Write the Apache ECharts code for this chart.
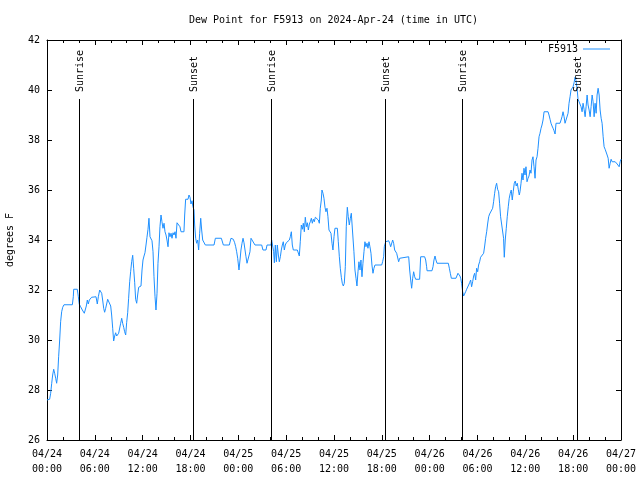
<!DOCTYPE html>
<html>
<head>
<meta charset="utf-8">
<script src="https://cdn.jsdelivr.net/npm/echarts@6/dist/echarts.min.js"></script>
<style>html,body{margin:0;padding:0;background:#fff}#c{width:640px;height:480px}</style>
</head>
<body>
<div id="c"></div>
<script>
// Hours after 2024-04-24 00:00 UTC and dew point (deg F)
const dewHours = [
0.0,0.33,0.46,0.59,0.71,0.84,0.96,1.09,1.21,1.34,1.46,1.59,1.71,1.84,1.97,2.13,3.18,3.30,3.35,3.80,3.93,4.05,4.22,4.43,4.68,4.81,4.93,5.06,5.18,5.31,5.48,5.6,5.73,6.15,6.31,6.44,6.61,6.73,6.86,6.98,7.11,7.23,7.36,7.48,7.61,7.74,7.86,7.99,8.11,8.24,8.36,8.49,8.61,8.74,8.86,8.99,9.12,9.24,9.37,9.49,9.62,9.74,9.87,9.99,10.12,10.24,10.37,10.49,10.62,10.75,10.87,11.0,11.12,11.25,11.37,11.5,11.75,
11.79,11.92,12.04,12.17,12.29,12.42,12.54,12.67,12.79,12.92,13.04,13.17,13.3,13.42,13.55,13.67,13.8,13.92,14.05,14.17,14.3,14.42,14.55,14.68,14.8,14.93,15.05,15.18,15.3,15.43,15.56,15.68,15.81,15.93,16.06,16.18,16.31,16.56,16.68,16.81,17.18,17.27,17.39,17.69,17.81,17.94,18.06,18.19,18.31,18.44,18.52,18.65,18.77,18.9,19.02,19.15,19.28,19.4,19.53,19.65,19.86,20.95,21.12,21.87,22.12,22.87,23.08,23.37,23.54,23.67,23.79,23.92,
24.08,24.21,24.33,24.46,24.59,24.71,24.84,24.96,25.09,25.34,25.46,25.59,25.84,26.09,26.93,27.09,27.47,27.6,28.1,28.18,28.31,28.43,28.52,28.64,28.77,28.89,29.02,29.14,29.27,29.39,29.52,29.64,29.77,29.89,30.02,30.15,30.27,30.4,30.52,30.65,30.77,30.9,31.02,31.15,31.4,31.52,31.65,31.77,31.9,32.03,32.15,32.28,32.4,32.53,32.66,32.78,32.91,33.03,33.16,33.28,33.41,33.53,33.66,33.91,34.03,34.16,34.28,34.41,34.49,34.62,34.74,34.87,34.99,35.12,35.24,35.37,
35.62,35.75,35.87,36.0,36.12,36.42,36.54,36.67,36.79,36.92,37.04,37.17,37.29,37.42,37.54,37.67,37.79,37.92,38.05,38.17,38.38,38.5,38.63,38.76,38.88,39.01,39.13,39.26,39.38,39.51,39.63,39.76,39.88,40.01,40.14,40.26,40.39,40.51,40.64,40.76,40.89,41.01,41.14,41.98,42.1,42.23,42.31,42.48,42.86,42.98,43.11,43.23,43.36,43.48,43.61,43.73,43.86,43.99,44.11,44.24,44.36,45.37,45.49,45.62,45.74,45.87,45.99,46.12,46.24,46.74,46.87,47.37,47.5,47.62,
47.67,48.29,48.42,48.54,48.67,48.79,48.92,50.34,50.47,50.59,50.72,51.3,51.43,51.55,51.68,51.8,51.89,52.01,52.14,52.26,52.39,52.51,52.64,52.76,52.89,53.01,53.14,53.26,53.39,53.52,53.64,53.77,53.89,54.02,54.14,54.27,54.39,54.52,54.64,54.77,54.9,55.02,55.15,55.27,55.4,55.52,55.65,55.77,55.9,56.02,56.15,56.27,56.4,56.52,56.65,56.77,56.9,57.15,57.27,57.36,57.48,57.61,57.73,57.86,57.98,58.11,58.23,58.36,58.48,58.61,58.74,58.86,58.99,59.11,59.24,
59.33,59.46,59.58,59.71,59.83,59.96,60.08,60.21,60.34,60.46,60.59,60.71,60.84,60.96,61.09,61.22,61.34,61.47,61.59,61.72,61.84,61.97,62.09,62.22,62.35,62.85,62.97,63.1,63.22,63.35,63.48,63.6,63.73,63.85,64.35,64.48,64.6,64.73,64.86,64.98,65.23,65.36,65.48,65.61,65.73,65.86,65.99,66.11,66.24,66.36,66.49,66.61,66.74,66.87,66.99,67.12,67.24,67.37,67.5,67.62,67.75,67.87,68.0,68.13,68.25,68.38,68.5,68.63,68.75,68.88,69.0,69.13,69.26,69.38,69.51,69.63,69.76,69.88,70.01,70.14,70.26,70.39,70.51,70.64,70.76,70.89,71.02,71.14,71.27,71.39,71.52,71.64,71.77,71.89,72.0
];
const dewValues = [
27.6,27.63,27.87,28.27,28.6,28.83,28.67,28.47,28.27,28.6,29.33,30.0,30.73,31.13,31.31,31.41,31.41,31.73,32.03,32.03,31.73,31.43,31.33,31.2,31.07,31.13,31.36,31.6,31.44,31.6,31.63,31.71,31.73,31.73,31.44,31.73,32.0,32.07,31.87,31.6,31.27,31.11,31.27,31.44,31.63,31.71,31.6,31.36,31.0,30.47,29.96,30.16,30.29,30.16,30.2,30.27,30.33,30.67,30.87,30.67,30.51,30.33,30.2,30.69,31.09,31.67,32.33,32.73,33.13,33.39,32.87,32.29,31.63,31.47,31.8,32.11,32.11,
32.16,32.8,33.2,33.36,33.49,33.8,34.11,34.43,34.87,34.13,34.05,33.97,33.53,32.53,31.73,31.2,31.87,33.07,33.73,34.53,35.0,34.73,34.47,34.67,34.33,34.2,34.0,33.73,34.29,34.13,34.27,34.07,34.29,34.2,34.33,34.07,34.69,34.69,34.53,34.33,34.33,35.0,35.63,35.63,35.8,35.71,35.44,35.57,35.33,35.2,34.6,34.07,33.87,34.0,33.6,34.27,34.87,34.4,34.0,33.93,33.8,33.8,34.07,34.07,33.8,33.8,34.07,34.03,33.89,33.73,33.53,33.27,
32.8,33.2,33.6,33.87,34.07,33.89,33.6,33.33,33.07,33.07,33.53,34.07,34.07,33.8,33.8,33.6,33.6,33.8,33.8,34.0,34.07,33.53,33.09,33.8,33.13,33.8,33.4,33.13,33.33,33.6,33.8,33.93,33.6,33.8,33.89,33.89,33.93,34.0,34.13,34.33,33.8,33.6,33.67,33.6,33.6,33.53,33.36,33.93,34.6,34.43,34.67,34.33,34.91,34.53,34.69,34.4,34.64,34.73,34.87,34.67,34.83,34.73,34.91,34.91,34.8,34.67,35.27,35.6,36.0,35.87,35.67,35.31,35.13,35.27,34.93,34.4,
34.27,33.87,33.6,34.13,34.47,34.47,33.93,33.33,32.87,32.51,32.27,32.16,32.27,32.93,34.53,35.31,34.93,34.6,34.87,35.07,35.07,33.53,32.8,32.47,32.16,32.73,33.13,32.8,33.2,32.53,33.07,33.53,33.93,33.73,33.87,33.67,33.93,33.73,33.47,33.0,32.67,32.87,33.0,33.0,33.13,33.33,33.73,33.93,33.97,33.87,33.73,33.8,34.0,33.87,33.6,33.67,33.47,33.53,33.13,33.27,33.33,33.33,32.8,32.4,32.07,32.47,32.73,32.53,32.43,32.43,33.33,33.33,33.2,32.93,
32.77,32.77,32.93,33.2,33.36,33.2,33.07,33.07,32.87,32.67,32.47,32.47,32.53,32.67,32.73,32.56,32.47,32.27,31.93,31.76,31.84,31.93,32.03,32.11,32.2,32.29,32.4,32.13,32.33,32.56,32.67,32.4,32.87,32.73,33.0,33.13,33.31,33.27,33.23,33.47,33.76,34.07,34.33,34.64,34.93,35.04,35.07,35.09,35.27,35.53,35.87,36.13,36.27,36.03,35.93,35.47,34.93,34.91,34.07,33.31,34.0,34.47,34.93,35.33,35.67,35.87,36.0,35.6,35.93,36.27,36.36,36.16,36.27,36.03,35.8,
35.93,36.27,36.67,36.4,36.87,36.6,36.93,36.33,36.47,36.56,36.8,36.67,37.2,37.33,36.93,36.47,37.2,37.33,37.67,38.13,38.27,38.47,38.6,38.8,39.13,39.13,39.0,38.83,38.67,38.56,38.47,38.37,38.24,38.67,38.67,38.8,38.93,39.13,38.93,38.67,38.67,39.07,39.47,39.73,40.0,39.93,40.13,40.29,40.51,40.37,40.07,39.63,39.53,39.49,39.33,39.13,39.47,39.23,38.93,39.33,39.8,39.4,39.2,38.93,39.33,39.8,39.53,38.93,39.47,39.07,39.8,40.07,39.8,39.2,38.87,38.67,38.13,37.73,37.63,37.6,37.4,37.27,36.87,37.07,37.23,37.13,37.17,37.07,37.13,37.09,37.04,37.0,36.93,37.13,37.23
];
const eventNames = ['Sunrise','Sunset','Sunrise','Sunset','Sunrise','Sunset'];
const eventHours = [4.05, 18.36, 28.14, 42.44, 52.10, 66.53];
const xTickLabels = ['04/24\n00:00','04/24\n06:00','04/24\n12:00','04/24\n18:00','04/25\n00:00','04/25\n06:00','04/25\n12:00','04/25\n18:00','04/26\n00:00','04/26\n06:00','04/26\n12:00','04/26\n18:00','04/27\n00:00'];
const seriesName = 'F5913';
const titleText = 'Dew Point for F5913 on 2024-Apr-24 (time in UTC)';
const yName = 'degrees F';

const FONT = '"DejaVu Sans Mono", "Liberation Mono", monospace';
const chart = echarts.init(document.getElementById('c'), null, {renderer: 'canvas'});
const lineData = dewHours.map((h, i) => [h, dewValues[i]]);
const evData = eventHours.map((h, i) => [h, i]);

const axisCommon = {
  axisLine: {show: true, onZero: false, lineStyle: {color: '#000', width: 1}},
  axisTick: {show: true, inside: true, length: 5, lineStyle: {color: '#000'}},
  splitLine: {show: false}
};

chart.setOption({
  animation: false,
  backgroundColor: '#fff',
  title: {
    text: titleText, left: 189, top: 15, padding: 0,
    textStyle: {fontFamily: FONT, fontSize: 10, fontWeight: 'normal', color: '#000'}
  },
  legend: {
    data: [{name: seriesName, icon: 'rect'}], right: 30, top: 44, padding: 0, align: 'right',
    itemWidth: 27, itemHeight: 1,
    textStyle: {fontFamily: FONT, fontSize: 10, color: '#000'}
  },
  grid: {left: 47, right: 19, top: 40, bottom: 40, containLabel: false, outerBoundsMode: 'none'},
  xAxis: [
    Object.assign({}, axisCommon, {
      type: 'value', position: 'bottom', min: 0, max: 72, interval: 6,
      minorTick: {show: true, splitNumber: 3, length: 3, lineStyle: {color: '#000'}},
      axisLabel: {fontFamily: FONT, fontSize: 10, color: '#000', lineHeight: 15, margin: 7,
        formatter: v => xTickLabels[Math.round(v / 6)]}
    }),
    Object.assign({}, axisCommon, {
      type: 'value', position: 'top', min: 0, max: 72, interval: 6,
      minorTick: {show: true, splitNumber: 3, length: 3, lineStyle: {color: '#000'}},
      axisLabel: {show: false}
    })
  ],
  yAxis: [
    Object.assign({}, axisCommon, {
      type: 'value', position: 'left', min: 26, max: 42, interval: 2,
      name: yName, nameLocation: 'middle', nameGap: 32, nameRotate: 90,
      nameTextStyle: {fontFamily: FONT, fontSize: 10, color: '#000'},
      axisLabel: {fontFamily: FONT, fontSize: 10, color: '#000', margin: 7}
    }),
    Object.assign({}, axisCommon, {
      type: 'value', position: 'right', min: 26, max: 42, interval: 2,
      axisLabel: {show: false}
    })
  ],
  series: [
    {
      name: seriesName, type: 'line', xAxisIndex: 0, yAxisIndex: 0,
      data: lineData, showSymbol: false, symbol: 'none',
      lineStyle: {color: '#1E90FF', width: 1}, itemStyle: {color: '#1E90FF'},
      z: 2
    },
    {
      type: 'custom', xAxisIndex: 0, yAxisIndex: 0, data: evData, z: 3, silent: true,
      renderItem: function (params, api) {
        const h = api.value(0);
        const idx = api.value(1);
        const pb = api.coord([h, 26]);
        const pt = api.coord([h, 39.64]);
        const pl = api.coord([h, 39.92]);
        const x = Math.floor(pb[0]) + 0.5;
        return {
          type: 'group',
          children: [
            {type: 'line', shape: {x1: x, y1: pb[1], x2: x, y2: pt[1]},
              style: {stroke: '#000', lineWidth: 1}},
            {type: 'text', x: x + 1, y: pl[1], rotation: Math.PI / 2,
              style: {text: eventNames[idx], font: '10px ' + FONT, fill: '#000',
                align: 'left', verticalAlign: 'middle'}}
          ]
        };
      }
    }
  ]
});
</script>
</body>
</html>
